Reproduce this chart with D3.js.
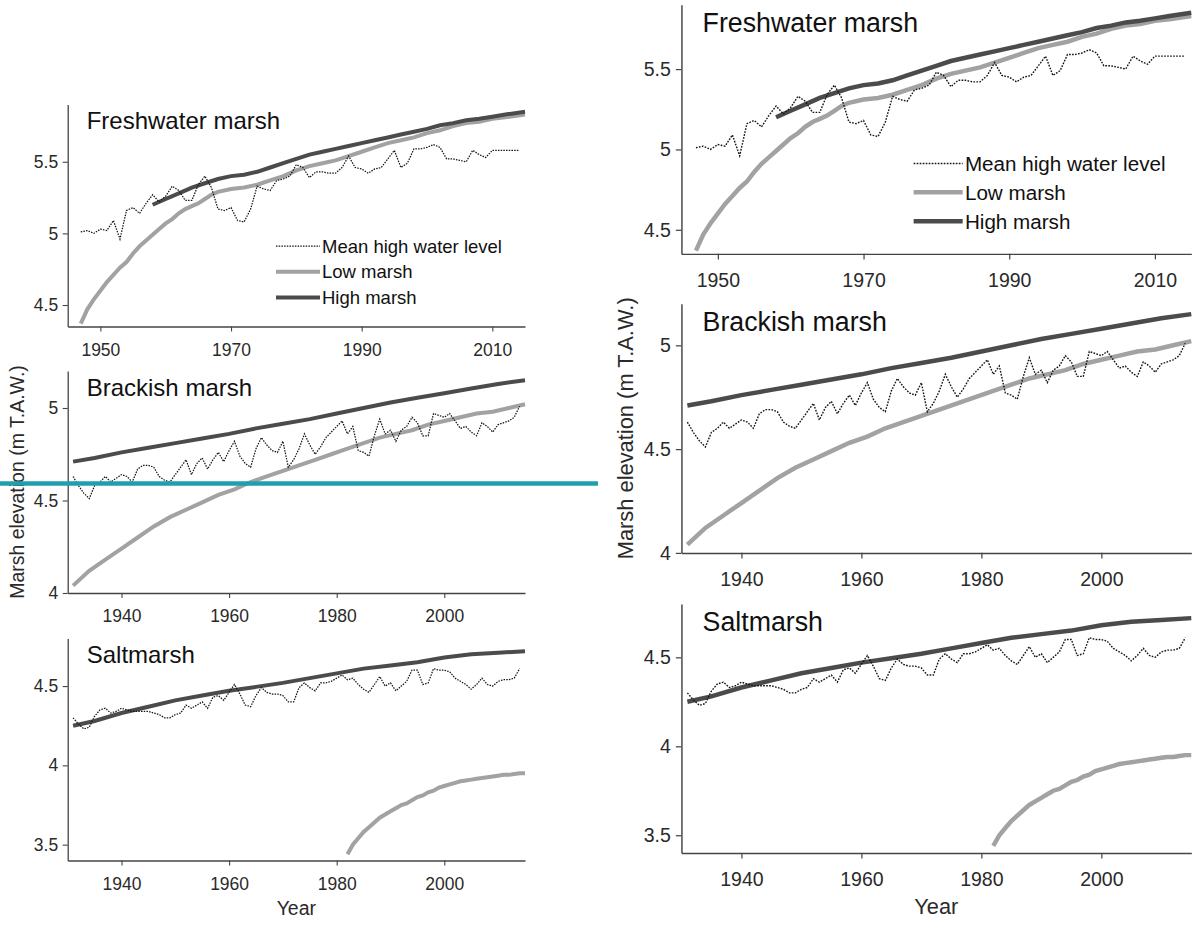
<!DOCTYPE html>
<html>
<head>
<meta charset="utf-8">
<script src="https://cdn.jsdelivr.net/npm/d3@7"></script>
<style>
  body { margin: 0; background: #fff; }
  svg { display: block; font-family: "Liberation Sans", Arial, sans-serif; }
</style>
</head>
<body>
<script>
// ---- Freshwater marsh ----
var fwMhwYears = [1947,1948,1949,1950,1951,1952,1953,1954,1955,1956,1957,1958,1959,1960,1961,1962,1963,1964,1965,1966,
                  1967,1968,1969,1970,1971,1972,1973,1974,1975,1976,1977,1978,1979,1980,1981,1982,1983,1984,1985,1986,
                  1987,1988,1989,1990,1991,1992,1993,1994,1995,1996,1997,1998,1999,2000,2001,2002,2003,2004,2005,2006,
                  2007,2008,2009,2010,2011,2012,2013,2014];
var fwMhw = [5.01,5.02,5.00,5.03,5.02,5.09,4.96,5.16,5.18,5.14,5.21,5.27,5.22,5.26,5.33,5.30,5.23,5.23,5.34,5.40,
             5.32,5.17,5.16,5.18,5.09,5.08,5.17,5.33,5.31,5.30,5.37,5.38,5.40,5.48,5.46,5.39,5.43,5.43,5.42,5.42,
             5.46,5.54,5.46,5.45,5.42,5.45,5.46,5.52,5.58,5.46,5.49,5.59,5.59,5.60,5.62,5.60,5.52,5.52,5.51,5.50,
             5.58,5.55,5.53,5.58,5.58,5.58,5.58,5.58];
var fwLowYears = [1947,1948,1949,1950,1951,1952,1953,1954,1955,1956,1957,1958,1959,1960,1961,1962,1963,1964,1965,1966,
                  1967,1968,1970,1972,1974,1976,1978,1980,1982,1984,1986,1988,1990,1992,1994,1996,1998,2000,2002,2004,
                  2006,2008,2010,2012,2015];
var fwLow = [4.37,4.47,4.54,4.60,4.66,4.71,4.76,4.80,4.86,4.91,4.95,4.99,5.03,5.07,5.10,5.14,5.17,5.19,5.21,5.24,
             5.27,5.29,5.31,5.32,5.34,5.37,5.40,5.44,5.47,5.49,5.51,5.54,5.57,5.60,5.63,5.65,5.67,5.70,5.72,5.75,
             5.77,5.78,5.80,5.81,5.83];
var fwHighYears = [1958,1960,1962,1964,1966,1968,1970,1972,1974,1976,1978,1980,1982,1984,1986,1988,1990,1992,1994,1996,
                   1998,2000,2002,2004,2006,2008,2010,2012,2015];
var fwHigh = [5.20,5.24,5.28,5.32,5.35,5.38,5.40,5.41,5.43,5.46,5.49,5.52,5.55,5.57,5.59,5.61,5.63,5.65,5.67,5.69,
              5.71,5.73,5.755,5.77,5.79,5.80,5.815,5.83,5.85];

// ---- Brackish marsh & saltmarsh (same years for mean high water) ----
var tideYears = [1931,1932,1933,1934,1935,1936,1937,1938,1939,1940,1941,1942,1943,1944,1945,1946,1947,1948,1949,1950,
                 1951,1952,1953,1954,1955,1956,1957,1958,1959,1960,1961,1962,1963,1964,1965,1966,1967,1968,1969,1970,
                 1971,1972,1973,1974,1975,1976,1977,1978,1979,1980,1981,1982,1983,1984,1985,1986,1987,1988,1989,1990,
                 1991,1992,1993,1994,1995,1996,1997,1998,1999,2000,2001,2002,2003,2004,2005,2006,2007,2008,2009,2010,
                 2011,2012,2013,2014];
var brMhw = [4.63,4.58,4.54,4.51,4.58,4.60,4.63,4.60,4.62,4.64,4.63,4.60,4.67,4.69,4.69,4.68,4.63,4.61,4.60,4.64,
             4.68,4.72,4.64,4.70,4.73,4.67,4.72,4.76,4.71,4.77,4.82,4.74,4.70,4.68,4.78,4.84,4.80,4.77,4.76,4.82,
             4.68,4.72,4.78,4.86,4.80,4.75,4.79,4.84,4.87,4.90,4.93,4.86,4.90,4.77,4.76,4.74,4.85,4.94,4.86,4.88,
             4.82,4.88,4.90,4.95,4.92,4.85,4.85,4.97,4.96,4.95,4.97,4.93,4.89,4.90,4.87,4.85,4.92,4.90,4.87,4.91,
             4.92,4.93,4.95,5.01];
var brLowYears = [1931,1934,1937,1940,1943,1946,1949,1952,1955,1958,1961,1964,1967,1970,1973,1976,1979,1982,1985,1988,
                  1991,1994,1997,2000,2003,2006,2009,2012,2015];
var brLow = [4.04,4.12,4.18,4.24,4.30,4.36,4.41,4.45,4.49,4.53,4.56,4.60,4.63,4.66,4.69,4.72,4.75,4.78,4.81,4.84,
             4.86,4.88,4.91,4.93,4.95,4.97,4.98,5.00,5.02];
var brHighYears = [1931,1935,1940,1945,1950,1955,1960,1965,1970,1975,1980,1985,1990,1995,2000,2005,2010,2015];
var brHigh = [4.71,4.73,4.76,4.785,4.81,4.835,4.86,4.89,4.915,4.94,4.97,5.00,5.03,5.055,5.08,5.105,5.13,5.15];

var slMhw = [4.30,4.26,4.23,4.24,4.31,4.35,4.36,4.33,4.34,4.36,4.35,4.34,4.34,4.34,4.34,4.33,4.32,4.30,4.30,4.32,
             4.33,4.38,4.36,4.38,4.40,4.36,4.43,4.44,4.41,4.46,4.51,4.45,4.38,4.37,4.44,4.49,4.46,4.45,4.45,4.44,
             4.40,4.40,4.49,4.52,4.49,4.47,4.52,4.52,4.53,4.55,4.57,4.54,4.55,4.51,4.48,4.46,4.51,4.56,4.50,4.52,
             4.47,4.50,4.53,4.60,4.60,4.51,4.52,4.61,4.60,4.60,4.59,4.55,4.53,4.51,4.48,4.51,4.55,4.51,4.50,4.53,
             4.54,4.54,4.55,4.61];
var slLowYears = [1982,1983,1984,1985,1986,1987,1988,1989,1990,1991,1992,1993,1994,1995,1996,1997,1998,1999,2000,2001,
                  2002,2003,2004,2005,2006,2007,2008,2009,2010,2011,2012,2013,2014,2015];
var slLow = [3.44,3.50,3.54,3.58,3.61,3.64,3.67,3.69,3.71,3.73,3.75,3.76,3.78,3.80,3.81,3.83,3.84,3.86,3.87,3.88,
             3.89,3.90,3.905,3.91,3.915,3.92,3.925,3.93,3.935,3.94,3.94,3.945,3.95,3.95];
var slHighYears = [1931,1935,1940,1945,1950,1955,1960,1965,1970,1975,1980,1985,1990,1995,2000,2005,2010,2015];
var slHigh = [4.25,4.28,4.33,4.37,4.41,4.44,4.47,4.495,4.52,4.55,4.58,4.61,4.63,4.65,4.68,4.70,4.71,4.72];

// panel settings
var panelNames = ["Freshwater marsh", "Brackish marsh", "Saltmarsh"];
var xDomains = [[1945, 2015], [1930, 2015], [1930, 2015]];
var yDomains = [[4.35, 5.9], [4.0, 5.2], [3.4, 4.8]];
var xTickValues = [[1950, 1970, 1990, 2010], [1940, 1960, 1980, 2000], [1940, 1960, 1980, 2000]];
var yTickValues = [[4.5, 5, 5.5], [4, 4.5, 5], [3.5, 4, 4.5]];
var legendLabels = ["Mean high water level", "Low marsh", "High marsh"];

var panelSeries = [
    { mhw: [fwMhwYears, fwMhw], low: [fwLowYears, fwLow], high: [fwHighYears, fwHigh] },
    { mhw: [tideYears, brMhw],  low: [brLowYears, brLow], high: [brHighYears, brHigh] },
    { mhw: [tideYears, slMhw],  low: [slLowYears, slLow], high: [slHighYears, slHigh] }
];

var width = 1192, height = 930;
var svg = d3.select('body').append('svg').attr('width', width).attr('height', height);
svg.append('rect').attr('width', width).attr('height', height).attr('fill', '#fff');

var lowColor = '#a2a2a2', highColor = '#4b4b4b', mhwColor = '#151515';

function pairUp(s) {
    return s[0].map(function(yr, i) { return { year: yr, val: s[1][i] }; });
}

// Rita hela figuren (tre paneler) i en grupp
function drawFigure(fig) {
    var left = 67.7, right = 525, plotH = 222;
    var tops = [104.5, 371, 638.5];

    panelSeries.forEach(function(p, i) {
        var xScale = d3.scaleLinear().domain(xDomains[i]).range([left, right]);
        var yScale = d3.scaleLinear().domain(yDomains[i]).range([tops[i] + plotH, tops[i]]);
        var g = fig.append('g');

        var line = d3.line()
            .x(function(d) { return xScale(d.year); })
            .y(function(d) { return yScale(d.val); });

        g.append('path').attr('fill', 'none').attr('stroke', lowColor)
            .attr('stroke-width', 4).attr('d', line(pairUp(p.low)));
        g.append('path').attr('fill', 'none').attr('stroke', highColor)
            .attr('stroke-width', 4).attr('d', line(pairUp(p.high)));
        g.append('path').attr('fill', 'none').attr('stroke', mhwColor)
            .attr('stroke-width', 1.25).attr('stroke-dasharray', '1.5,1.2')
            .attr('d', line(pairUp(p.mhw)));

        // axes
        var xAxis = g.append('g').attr('transform', 'translate(0,' + (tops[i] + plotH) + ')')
            .call(d3.axisBottom(xScale).tickValues(xTickValues[i]).tickFormat(d3.format('d'))
                .tickSize(5).tickSizeOuter(0).tickPadding(12));
        var yAxis = g.append('g').attr('transform', 'translate(' + left + ',0)')
            .call(d3.axisLeft(yScale).tickValues(yTickValues[i]).tickFormat(d3.format('~g'))
                .tickSize(5).tickSizeOuter(0).tickPadding(4.5));
        [xAxis, yAxis].forEach(function(a) {
            a.select('.domain').attr('stroke', '#444').attr('stroke-width', 1.3);
            a.selectAll('.tick line').attr('stroke', '#444').attr('stroke-width', 1.1);
            a.selectAll('.tick text').attr('fill', '#2a2a2a').attr('font-size', 17.5)
                .attr('font-family', '"Liberation Sans", Arial, sans-serif');
        });

        // panel title
        g.append('text').attr('x', left + 19).attr('y', tops[i] + 24.5)
            .attr('font-size', 24).attr('fill', '#111').text(panelNames[i]);
    });

    // legend in the freshwater panel
    var legColors = [mhwColor, lowColor, highColor];
    var legWidths = [1.25, 4, 4];
    var leg = fig.append('g');
    legendLabels.forEach(function(lab, k) {
        var y = 246 + k * 25.7;
        leg.append('line').attr('x1', 276).attr('x2', 320).attr('y1', y).attr('y2', y)
            .attr('stroke', legColors[k]).attr('stroke-width', legWidths[k])
            .attr('stroke-dasharray', k === 0 ? '1.5,1.2' : null);
        leg.append('text').attr('x', 322).attr('y', y).attr('dy', '0.36em')
            .attr('font-size', 18.5).attr('fill', '#111').text(lab);
    });

    // axis titles
    fig.append('text').attr('transform', 'translate(17.3,482) rotate(-90)')
        .attr('text-anchor', 'middle').attr('dy', '0.35em')
        .attr('font-size', 19.5).attr('fill', '#2a2a2a').text('Marsh elevation (m T.A.W.)');
    fig.append('text').attr('x', (left + right) / 2).attr('y', 915)
        .attr('text-anchor', 'middle').attr('font-size', 19.5).attr('fill', '#2a2a2a').text('Year');
}

// Vänster kopia och förstorad höger kopia
drawFigure(svg.append('g'));
drawFigure(svg.append('g').attr('transform', 'translate(605.9,-112.5) scale(1.115,1.122)'));

// Turkos markeringslinje över vänstra figuren
svg.append('line').attr('x1', 0).attr('x2', 598).attr('y1', 483.5).attr('y2', 483.5)
    .attr('stroke', '#1f9fae').attr('stroke-width', 4.3);
</script>
</body>
</html>
